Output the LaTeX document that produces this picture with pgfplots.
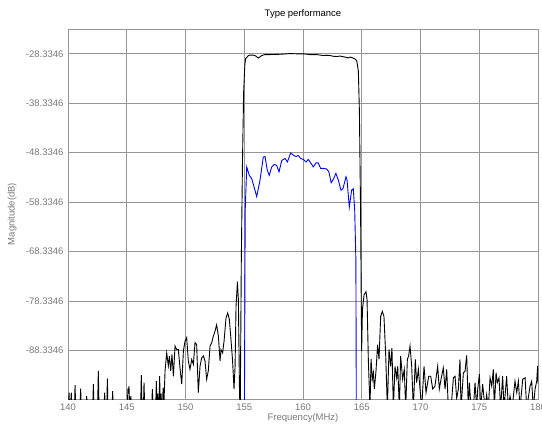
\documentclass[border=0pt]{standalone}
\usepackage{fontspec}
\setmainfont{Liberation Sans}
\usepackage{pgfplots}
\pgfplotsset{compat=1.18}
\definecolor{gridgray}{RGB}{150,150,150}
\definecolor{labelgray}{RGB}{120,120,120}
\begin{document}
\begin{tikzpicture}
  \begin{axis}[
      scale only axis,
      width=470pt, height=370pt,
      xmin=140, xmax=180,
      ymin=-98.1, ymax=-23.3346,
      xtick={140,145,...,180},
      xticklabels={140,145,150,155,160,165,170,175,180},
      ytick={-88.3346,-78.3346,-68.3346,-58.3346,-48.3346,-38.3346,-28.3346},
      yticklabels={-88.3346,-78.3346,-68.3346,-58.3346,-48.3346,-38.3346,-28.3346},
      grid=major,
      major grid style={gridgray, line width=0.9pt},
      axis line style={gridgray, line width=0.9pt},
      tick style={gridgray, line width=0.6pt},
      major tick length=3pt,
      tick align=inside,
      tick label style={font=\fontsize{9.5}{11}\selectfont, text=labelgray},
      yticklabel style={xshift=-1pt},
      xticklabel style={yshift=-1pt},
      title={Type performance},
      every axis title/.style={font=\fontsize{9.5}{11}\selectfont, at={(axis description cs:0.5,1.04)}, anchor=center},
      xlabel={Frequency(MHz)},
      every axis x label/.style={font=\fontsize{9.5}{11}\selectfont, text=labelgray, at={(axis description cs:0.5,-0.051)}, anchor=center},
      ylabel={Magnitude(dB)},
      every axis y label/.style={font=\fontsize{9.5}{11}\selectfont, text=labelgray, at={(axis description cs:-0.119,0.5)}, anchor=center, rotate=90},
    ]
    % measured response
    \addplot[black, line width=0.9pt] coordinates {
      (140.0,-100)(140.05,-100)(140.09,-96.8)(140.14,-100)(140.2,-100)(140.28,-96.8)(140.33,-100)
      (140.55,-100)(140.6,-95.3)(140.66,-100)
      (141.02,-100)(141.08,-96)(141.13,-100)
      (141.54,-100)(141.59,-97.5)(141.64,-100)
      (142.1,-100)(142.16,-95.1)(142.21,-100)
      (142.52,-100)(142.58,-92.4)(142.64,-100)
      (143.07,-100)(143.12,-96.8)(143.18,-100)(143.3,-100)(143.35,-94)(143.4,-100)
      (143.75,-100)(143.8,-96.5)(143.85,-100)
      (145.04,-100)(145.1,-96)(145.15,-97)(145.19,-95.5)(145.25,-100)(145.35,-97.5)(145.4,-100)
      (146.18,-100)(146.24,-93.3)(146.3,-100)(146.42,-100)(146.47,-94.8)(146.53,-100)
      (147.12,-100)(147.18,-96.1)(147.24,-100)
      (147.46,-100)(147.52,-94.5)(147.58,-100)(147.65,-97)(147.7,-100)
      (147.75,-100)(147.8,-93.5)(147.86,-100)(147.92,-97)(147.98,-100)
      (148.05,-100)(148.09,-95.8)(148.15,-100)
      (148.26,-92.4)(148.4,-88.8)(148.54,-91.4)(148.63,-89.4)(148.74,-92.4)(148.85,-89.1)
      (148.97,-93.5)(149.11,-87.4)(149.25,-88.1)(149.39,-88.1)(149.53,-91.8)(149.68,-95.1)
      (149.82,-88.4)(149.96,-86.4)(150.1,-85.7)(150.24,-90.4)(150.38,-92.1)(150.53,-90.1)
      (150.67,-91.1)(150.81,-86.7)(150.95,-87.1)(151.09,-96.8)(151.24,-91.4)(151.38,-89.8)
      (151.52,-89.4)(151.66,-90.4)(151.8,-94.1)(151.94,-92.4)(152.09,-87.4)(152.23,-86.7)
      (152.37,-85.4)(152.51,-84.4)(152.65,-83.1)(152.8,-85.4)(152.94,-90.4)(153.02,-88.1)
      (153.16,-88.8)(153.28,-86.4)(153.45,-81.7)(153.59,-80.7)(153.73,-82.0)(153.87,-86.1)
      (154.0,-90.1)(154.13,-96.1)(154.22,-91.4)(154.3,-79.4)(154.42,-74.4)(154.5,-78)
      (154.6,-97.5)(154.66,-100)(154.75,-70)(154.85,-50)(154.95,-36)(155.05,-30.5)(155.12,-29.3)
      (155.21,-29.1)(155.35,-28.7)(155.49,-28.6)(155.7,-28.6)(155.92,-28.7)(156.2,-29.2)
      (156.49,-28.7)(156.77,-28.5)(157.2,-28.5)(157.76,-28.47)(158.33,-28.4)(158.9,-28.3)
      (159.46,-28.35)(160.03,-28.35)(160.6,-28.5)(161.17,-28.5)(161.45,-28.6)(161.73,-28.7)
      (162.0,-28.65)(162.3,-28.7)(162.6,-28.85)(162.87,-28.9)(163.15,-28.8)(163.44,-28.95)
      (163.65,-29.05)(163.86,-29.2)(164.0,-29.0)(164.15,-29.1)(164.3,-29.25)(164.43,-29.4)
      (164.57,-29.7)(164.71,-31.8)(164.8,-40)(164.9,-60)(164.99,-88.4)
      (165.06,-80)(165.2,-77)(165.36,-76.4)(165.45,-78)(165.56,-90.1)(165.7,-100)
      (165.79,-90)(165.9,-94.1)(165.99,-92.8)(166.07,-96.1)(166.21,-92.5)(166.35,-87.1)
      (166.47,-90.1)(166.61,-81.4)(166.75,-80.4)(166.89,-81.4)(167.04,-89.4)(167.18,-100)
      (167.32,-88.1)(167.46,-91.5)(167.57,-87.8)(167.69,-100)(167.83,-91.5)(167.97,-93.8)
      (168.06,-91.5)(168.2,-100)(168.31,-89.4)(168.48,-94.1)(168.62,-92.1)(168.74,-100)
      (168.88,-90.1)(168.99,-89.4)(169.11,-87.4)(169.25,-91.5)(169.39,-100)(169.56,-90.1)
      (169.67,-94.8)(169.82,-92.1)(169.96,-96.1)(170.1,-100)(170.3,-91.5)(170.47,-96.8)
      (170.7,-93.5)(170.87,-93.5)(171.04,-96.1)(171.23,-95.5)(171.46,-91.5)(171.6,-96.1)
      (171.77,-93.8)(171.94,-91.8)(172.09,-96.1)(172.23,-92.1)(172.37,-100)
      (172.6,-100)(172.8,-93.8)(172.94,-93.5)(173.08,-98)(173.22,-96.1)(173.36,-90.1)
      (173.45,-100)(173.65,-92.8)(173.79,-92.5)(173.93,-89.3)(174.07,-100)(174.16,-94.8)
      (174.3,-100)(174.5,-100)(174.64,-94.8)(174.78,-100)(174.87,-96.1)(175.01,-93.1)
      (175.12,-100)(175.29,-95.1)(175.49,-100)(175.63,-97.2)(175.77,-100)(175.92,-93.8)
      (176.06,-95.5)(176.2,-92.1)(176.28,-100)(176.43,-92.8)(176.54,-94.8)(176.68,-93.8)
      (176.82,-100)(176.99,-93.5)(177.11,-100)(177.33,-93.5)(177.48,-100)(177.62,-97.5)
      (177.8,-100)(178.04,-94.5)(178.19,-96.8)(178.33,-94.5)(178.47,-100)(178.7,-94.1)
      (178.9,-93.8)(179.04,-100)(179.32,-95.5)(179.46,-94.5)(179.6,-100)(179.75,-96.1)
      (179.89,-94.5)(179.97,-91.4)(180.0,-95)
    };
    % simulated response
    \addplot[blue, line width=0.9pt] coordinates {
      (155.0,-110)(155.08,-60)(155.21,-51.2)(155.43,-52.9)(155.63,-53.55)(155.83,-55.2)
      (156.06,-57.2)(156.34,-53.9)(156.62,-49.2)(156.77,-49.1)(156.96,-51.9)(157.13,-52.9)
      (157.34,-51.2)(157.56,-50.7)(157.76,-50.9)(157.96,-52.2)(158.19,-49.9)(158.47,-49.5)
      (158.67,-50.2)(158.95,-48.4)(159.23,-48.9)(159.4,-49.1)(159.6,-48.9)(159.8,-49.5)
      (160.03,-49.7)(160.26,-50.2)(160.45,-49.7)(160.66,-50.4)(160.88,-51.2)(161.1,-50.4)
      (161.3,-50.4)(161.5,-51.5)(161.7,-51.5)(162.0,-51.6)(162.2,-52.2)(162.4,-54.4)
      (162.6,-53.6)(162.8,-52.5)(163.0,-53.8)(163.23,-55.9)(163.4,-55.6)(163.66,-53.2)
      (163.75,-53.9)(163.94,-59.3)(164.14,-55.9)(164.28,-55.6)(164.4,-60)(164.5,-70)(164.55,-110)
    };
  \end{axis}
  \pgfresetboundingbox
  \path[use as bounding box] ([xshift=-68pt,yshift=-26pt]current axis.south west)
    rectangle ([xshift=4pt,yshift=29pt]current axis.north east);
\end{tikzpicture}
\end{document}
